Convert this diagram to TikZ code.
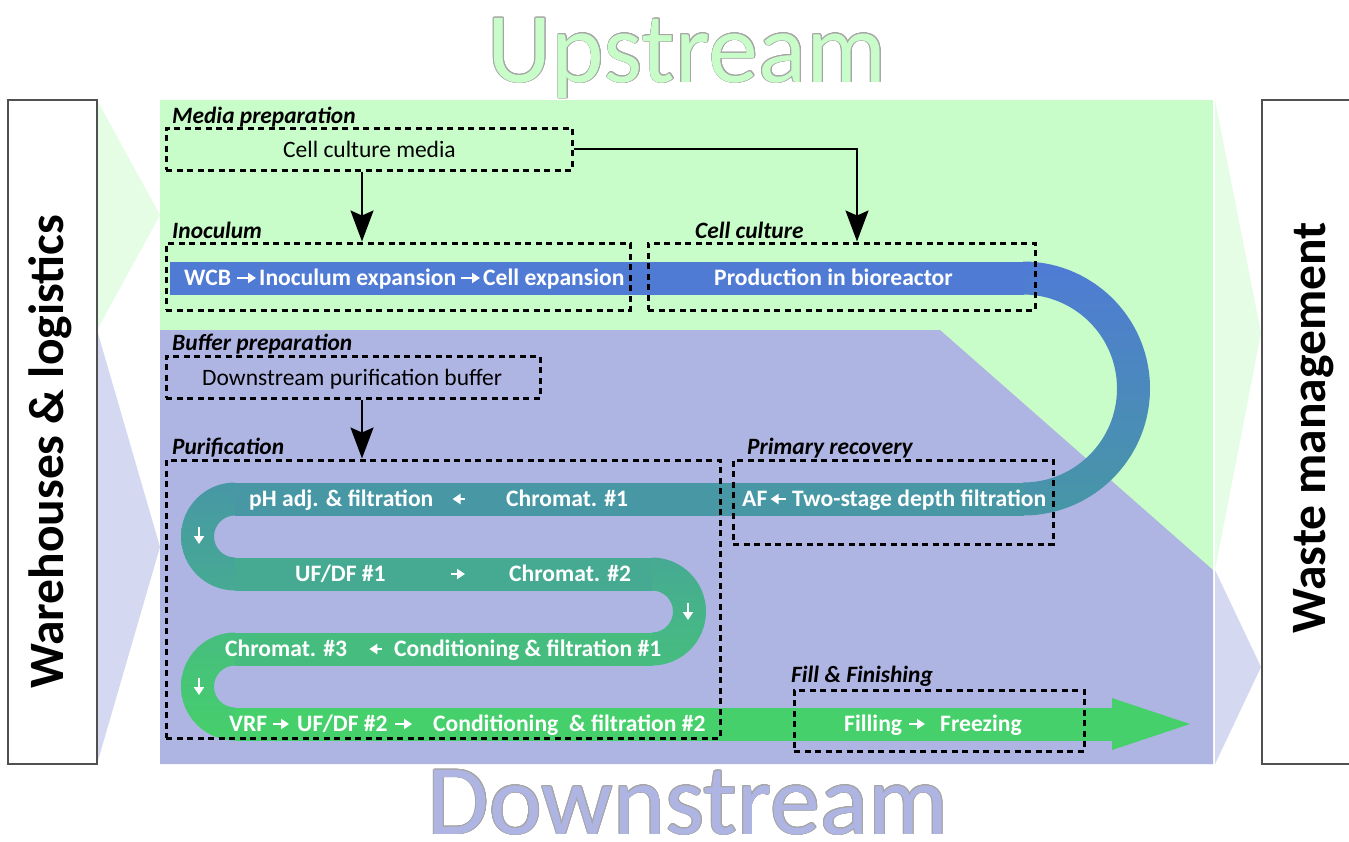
\documentclass[tikz,border=0pt]{standalone}
\usepackage{fontspec}
\setmainfont{Carlito}
\usepackage{contour}
\contourlength{0.8pt}
\usetikzlibrary{arrows.meta}

\definecolor{upbg}{HTML}{C8FCC8}
\definecolor{downbg}{HTML}{AFB5E3}
\definecolor{upchev}{HTML}{E4FDE4}
\definecolor{downchev}{HTML}{D4D8F1}
\definecolor{flowA}{HTML}{4F7BD5}
\definecolor{flowB}{HTML}{4797A5}
\definecolor{flowC}{HTML}{46AA93}
\definecolor{flowD}{HTML}{46BD7F}
\definecolor{flowE}{HTML}{46D06B}
\definecolor{sideline}{HTML}{505050}

\tikzset{
  dbox/.style={draw=black, line width=3pt, dash pattern=on 6pt off 4.5pt, inner sep=0pt},
  sidebox/.style={draw=sideline, line width=1.5pt, fill=white, inner sep=0pt},
  sidetxt/.style={rotate=90, anchor=base, inner sep=0pt, font=\fontsize{49.5}{55}\selectfont\bfseries},
  stagelbl/.style={anchor=base west, inner sep=0pt, font=\fontsize{23.4}{27}\selectfont\bfseries\itshape},
  boxtxt/.style={anchor=base west, inner sep=0pt, font=\fontsize{23.5}{27}\selectfont},
  flowtxt/.style={anchor=west, inner sep=0pt, text=white, text height=14.5pt, text depth=0pt,
                  font=\fontsize{23.6}{27}\selectfont\bfseries},
  feed/.style={line width=2pt, -{Stealth[width=23pt,length=31pt,inset=5pt]}},
  warrow/.style={white, line width=2.6pt, -{Triangle[width=10pt,length=8pt]}},
  title/.style={anchor=base, inner sep=0pt, font=\fontsize{100}{110}\selectfont}
}

\begin{document}
\begin{tikzpicture}[x=1pt,y=-1pt]
\useasboundingbox (0,0) rectangle (1349,841);
\clip (0,0) rectangle (1349,841);
\fill[white] (0,0) rectangle (1349,841);

% pointers from the side boxes into the process panel
\fill[upchev] (97,100) -- (160,215) -- (97,330) -- cycle;
\fill[downchev] (97,330) -- (160,547) -- (97,764) -- cycle;
\fill[upchev] (1215,100) -- (1261,333) -- (1215,570) -- cycle;
\fill[downchev] (1215,570) -- (1261,667) -- (1215,764) -- cycle;

% upstream / downstream panel
\fill[upbg] (160,100) rectangle (1213,764);
\fill[downbg] (160,330) -- (940,330) -- (1213,570) -- (1213,764) -- (160,764) -- cycle;

% side boxes
\node[sidebox, minimum width=89pt, minimum height=664pt] (whbox) at (52.5,432) {};
\node[sidetxt] (whtxt) at (63,452) {Warehouses \& logistics};
\node[sidebox, minimum width=110pt, minimum height=664pt] (wmbox) at (1317,432) {};
\node[sidetxt] (wmtxt) at (1325,428) {Waste management};

% process stream
\fill[flowA] (170,261.5) rectangle (1023.5,294.5);
\path[top color=flowA, bottom color=flowB] (1023,261.5) arc[start angle=-90, end angle=90, radius=127]
  -- (1023,482.5) arc[start angle=90, end angle=-90, radius=94] -- cycle;
\fill[flowB] (234.5,482.5) rectangle (1023.5,515.5);
\path[top color=flowB, bottom color=flowC] (235,482.5) arc[start angle=270, end angle=90, radius=54]
  -- (235,557.5) arc[start angle=90, end angle=270, radius=21] -- cycle;
\fill[flowC] (234.5,557.5) rectangle (652.5,590.5);
\path[top color=flowC, bottom color=flowD] (652,557.5) arc[start angle=-90, end angle=90, radius=54]
  -- (652,632.5) arc[start angle=90, end angle=-90, radius=21] -- cycle;
\fill[flowD] (234.5,632.5) rectangle (652.5,665.5);
\path[top color=flowD, bottom color=flowE] (235,632.5) arc[start angle=270, end angle=90, radius=54]
  -- (235,707.5) arc[start angle=90, end angle=270, radius=21] -- cycle;
\fill[flowE] (234.5,707.5) rectangle (1112.5,740.5);
\fill[flowE] (1112,698) -- (1190,724) -- (1112,750) -- cycle;

% step names along the stream
\node[flowtxt] (wcb) at (184,278) {WCB};
\node[flowtxt] (inocexp) at (259,278) {Inoculum expansion};
\node[flowtxt] (cellexp) at (483,278) {Cell expansion};
\node[flowtxt] (prod) at (714,278) {Production in bioreactor};
\node[flowtxt] (phadj) at (249,499) {pH adj. \& filtration};
\node[flowtxt] (chrom1) at (506,499) {Chromat. \#1};
\node[flowtxt] (af) at (742,499) {AF};
\node[flowtxt] (depth) at (792,499) {Two-stage depth filtration};
\node[flowtxt] (ufdf1) at (295,574) {UF/DF \#1};
\node[flowtxt] (chrom2) at (509,574) {Chromat. \#2};
\node[flowtxt] (chrom3) at (225,649) {Chromat. \#3};
\node[flowtxt] (cond1) at (394,649) {Conditioning \& filtration \#1};
\node[flowtxt] (vrf) at (229,724) {VRF};
\node[flowtxt] (ufdf2) at (297,724) {UF/DF \#2};
\node[flowtxt] (cond2) at (433,724) {Conditioning\ \ \& filtration \#2};
\node[flowtxt] (filling) at (844,724) {Filling};
\node[flowtxt] (freezing) at (940,724) {Freezing};

\draw[warrow, shorten <=6pt, shorten >=3pt] (wcb.east) -- (inocexp.west);
\draw[warrow, shorten <=5pt, shorten >=3pt] (inocexp.east) -- (cellexp.west);
\draw[warrow, shorten <=41pt, shorten >=19pt] (chrom1.west) -- (phadj.east);
\draw[warrow, shorten <=6pt, shorten >=3pt] (depth.west) -- (af.east);
\draw[warrow, shorten <=65pt, shorten >=44pt] (ufdf1.east) -- (chrom2.west);
\draw[warrow, shorten <=12pt, shorten >=22pt] (cond1.west) -- (chrom3.east);
\draw[warrow, shorten <=6pt, shorten >=8pt] (vrf.east) -- (ufdf2.west);
\draw[warrow, shorten <=7pt, shorten >=21pt] (ufdf2.east) -- (cond2.west);
\draw[warrow, shorten <=7pt, shorten >=15pt] (filling.east) -- (freezing.west);

\coordinate (turnA1) at (199,527);
\coordinate (turnA2) at (199,544);
\coordinate (turnB1) at (688,603);
\coordinate (turnB2) at (688,620);
\coordinate (turnC1) at (199,678);
\coordinate (turnC2) at (199,695);
\draw[warrow] (turnA1) -- (turnA2);
\draw[warrow] (turnB1) -- (turnB2);
\draw[warrow] (turnC1) -- (turnC2);

% stage boxes
\node[dbox, minimum width=406pt, minimum height=42pt] (media) at (369,149) {};
\node[dbox, minimum width=464pt, minimum height=67pt] (inoc) at (398,276.5) {};
\node[dbox, minimum width=387pt, minimum height=67pt] (cellc) at (841.5,276.5) {};
\node[dbox, minimum width=374pt, minimum height=42pt] (buffer) at (353,377) {};
\node[dbox, minimum width=554pt, minimum height=278pt] (purif) at (443,599) {};
\node[dbox, minimum width=320pt, minimum height=84pt] (primrec) at (893,502) {};
\node[dbox, minimum width=290pt, minimum height=61pt] (fillfin) at (939,720.5) {};

\node[boxtxt] (mediatxt) at (283,157) {Cell culture media};
\node[boxtxt] (buffertxt) at (202,385) {Downstream purification buffer};

% stage labels
\node[stagelbl] (lmedia) at (172,123) {Media preparation};
\node[stagelbl] (linoc) at (172,238) {Inoculum};
\node[stagelbl] (lcellc) at (695,238) {Cell culture};
\node[stagelbl] (lbuffer) at (172,350) {Buffer preparation};
\node[stagelbl] (lpurif) at (172,454) {Purification};
\node[stagelbl] (lprimrec) at (747,454) {Primary recovery};
\node[stagelbl] (lfill) at (791,682) {Fill \& Finishing};

% material feeds
\coordinate (feedx1) at (362,0);
\coordinate (feedx2) at (857,0);
\draw[feed] (media.south -| feedx1) -- (inoc.north -| feedx1);
\draw[feed] (media.east) -| (feedx2 |- cellc.north);
\draw[feed] (buffer.south -| feedx1) -- (purif.north -| feedx1);

% headings
\node[title] (uptitle) at (687,82) {\color{upbg}\contour{gray!70}{Upstream}};
\node[title] (downtitle) at (688,834) {\color{downbg}\contour{gray!70}{Downstream}};
\end{tikzpicture}
\end{document}
